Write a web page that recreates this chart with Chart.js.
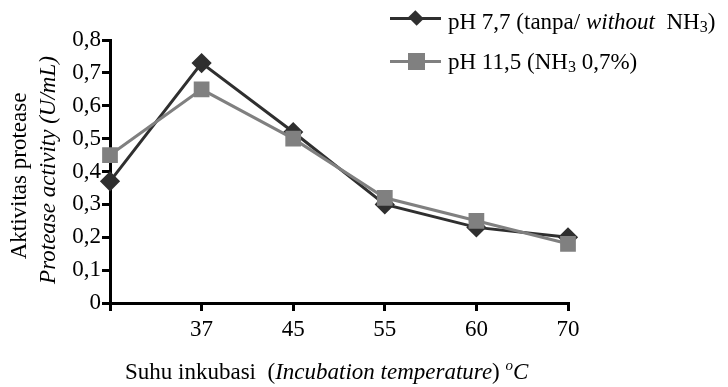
<!DOCTYPE html>
<html>
<head>
<meta charset="utf-8">
<script src="https://cdn.jsdelivr.net/npm/chart.js@4"></script>
<style>
  body { margin: 0; background: #fff; }
  #wrap { position: relative; width: 728px; height: 387px; font-family: "Liberation Serif", "Times New Roman", serif; color: #000; }
  canvas { position: absolute; left: 0; top: 0; }
  .lbl { position: absolute; font-size: 23px; white-space: nowrap; line-height: 1; }
  .ytitle { position: absolute; font-size: 23px; white-space: nowrap; line-height: 1; transform: translate(-50%, -50%) rotate(-90deg); }
  .leg { position: absolute; left: 390px; width: 51px; height: 3px; }
  .mk { position: absolute; }
  sub { font-size: 16px; vertical-align: -3px; line-height: 0; }
  sup { font-size: 15px; vertical-align: 9px; line-height: 0; }
</style>
</head>
<body>
<div id="wrap">
  <canvas id="chartSuhu" width="728" height="387"></canvas>

  <!-- legenda -->
  <div class="leg" style="top:17px;background:#2f2f2f"></div>
  <div class="mk" style="left:410px;top:12px;width:12px;height:12px;background:#2f2f2f;transform:rotate(45deg) scaleY(0.85)"></div>
  <div class="lbl" style="left:448px;top:10px">pH 7,7 (tanpa/ <i>without</i>&nbsp; NH<sub>3</sub>)</div>

  <div class="leg" style="top:60px;background:#808080"></div>
  <div class="mk" style="left:408px;top:53px;width:17px;height:17px;background:#808080"></div>
  <div class="lbl" style="left:448px;top:50px">pH 11,5 (NH<sub>3</sub> 0,7%)</div>

  <!-- judul sumbu -->
  <div class="ytitle" style="left:18px;top:176px">Aktivitas protease</div>
  <div class="ytitle" style="left:47px;top:170px"><i>Protease activity (U/mL)</i></div>
  <div class="lbl" style="left:125px;top:360px">Suhu inkubasi&nbsp; (<i>Incubation temperature</i>) <sup><i>o</i></sup><i>C</i></div>
</div>

<script>
const suhu = ["", "37", "45", "55", "60", "70"];
const tanpaNH3 = [0.37, 0.73, 0.52, 0.30, 0.23, 0.20];
const denganNH3 = [0.45, 0.65, 0.50, 0.32, 0.25, 0.18];
const yTicks = [0, 0.1, 0.2, 0.3, 0.4, 0.5, 0.6, 0.7, 0.8];

const fontSerif = { family: "'Liberation Serif', 'Times New Roman', serif", size: 23 };

const ctx = document.getElementById("chartSuhu").getContext("2d");
new Chart(ctx, {
    type: "line",
    data: {
        labels: suhu,
        datasets: [{
            label: "pH 7,7 (tanpa/ without NH3)",
            data: tanpaNH3,
            borderColor: "#2f2f2f",
            backgroundColor: "#2f2f2f",
            borderWidth: 3,
            pointStyle: "rectRot",
            pointRadius: 8,
            order: 1
        }, {
            label: "pH 11,5 (NH3 0,7%)",
            data: denganNH3,
            borderColor: "#808080",
            backgroundColor: "#808080",
            borderWidth: 3,
            pointStyle: "rect",
            pointRadius: 9,
            order: 0
        }]
    },
    options: {
        responsive: false,
        animation: false,
        layout: { padding: { left: 0, top: 40, right: 160, bottom: 0 } },
        plugins: { legend: { display: false }, tooltip: { enabled: false } },
        scales: {
            x: {
                offset: false,
                afterFit: function (s) { s.height = 84; },
                border: { color: "#000", width: 3 },
                grid: { drawOnChartArea: false, color: "#000", tickLength: 8, lineWidth: 3 },
                ticks: { color: "#000", font: fontSerif, padding: 5, maxRotation: 0, autoSkip: false }
            },
            y: {
                min: 0,
                max: 0.8,
                afterFit: function (s) { s.width = 110; },
                afterBuildTicks: function (s) { s.ticks = yTicks.map(v => ({ value: v })); },
                border: { color: "#000", width: 3 },
                grid: { drawOnChartArea: false, color: "#000", tickLength: 8, lineWidth: 3 },
                ticks: {
                    color: "#000",
                    font: fontSerif,
                    padding: 1,
                    callback: function (v) { return v === 0 ? "0" : v.toFixed(1).replace(".", ","); }
                }
            }
        }
    }
});
</script>
</body>
</html>
